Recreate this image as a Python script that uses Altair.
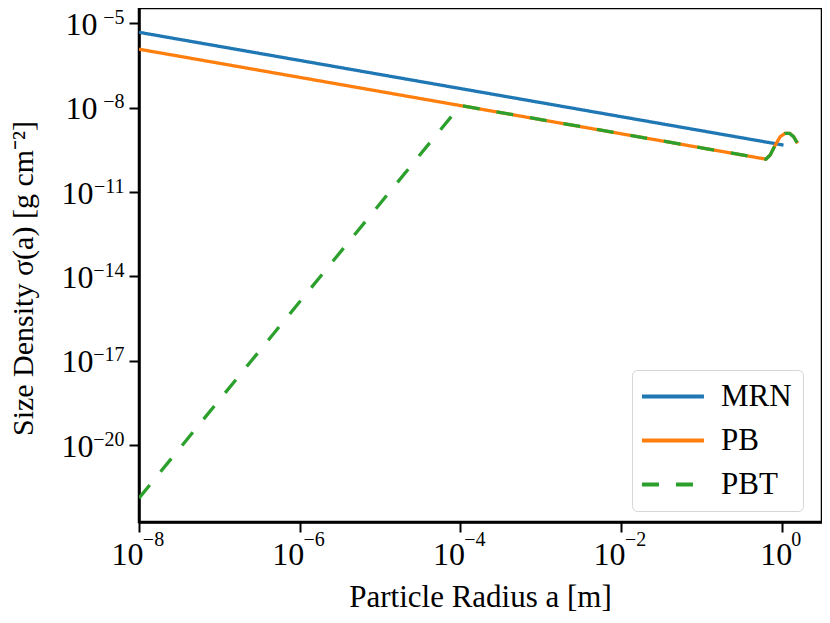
import math
import altair as alt
import pandas as pd

# Series values (log10 of sigma)
mrn_a = [1e-8, 1.05]
mrn_log_sigma = [-5.32, -9.33]

pb_a = [1e-8, 0.634, 0.717, 0.828, 0.955, 1.10, 1.247, 1.40, 1.57]
pb_log_sigma = [-5.92, -9.83, -9.68, -9.33, -9.03, -8.91, -8.91, -9.03, -9.27]

pbt_a = [1e-8, 1e-4, 0.634, 0.717, 0.828, 0.955, 1.10, 1.247, 1.40, 1.57]
pbt_log_sigma = [-21.88, -7.92, -9.83, -9.68, -9.33, -9.03, -8.91, -8.91, -9.03, -9.27]

series_names = ["MRN", "PB", "PBT"]
series_colors = ["#1f77b4", "#ff7f0e", "#2ca02c"]

x_ticks = [1e-8, 1e-6, 1e-4, 1e-2, 1.0]
x_tick_exponents = ["−8", "−6", "−4", "−2", "0"]
y_ticks = [1e-5, 1e-8, 1e-11, 1e-14, 1e-17, 1e-20]
y_tick_exponents = ["−5", "−8", "−11", "−14", "−17", "−20"]

rows = []
for name, xs, ys in [("MRN", mrn_a, mrn_log_sigma), ("PB", pb_a, pb_log_sigma), ("PBT", pbt_a, pbt_log_sigma)]:
    for i, (a, ls) in enumerate(zip(xs, ys)):
        rows.append({"series": name, "a": a, "sigma": 10 ** ls, "i": i})
df = pd.DataFrame(rows)


def exp_expr(ticks, labels):
    expr = "''"
    for t, lab in reversed(list(zip(ticks, labels))):
        expr = f"abs(log(datum.value)/LN10 - ({math.log10(t)})) < 0.01 ? '{lab}' : ({expr})"
    return expr


FONT = "Liberation Serif"
x_scale = alt.Scale(type="log", domain=[1e-8, 10 ** 0.5], nice=False)
y_scale = alt.Scale(type="log", domain=[10 ** -22.73, 10 ** -4.456], nice=False)

common_axis = dict(grid=False, labelFlush=False, labelOverlap=False, labelBound=False,
                   labelFont=FONT, labelColor="black")

lines = alt.Chart(df).mark_line(strokeWidth=3.3, clip=True).encode(
    x=alt.X("a:Q", scale=x_scale,
            axis=alt.Axis(values=x_ticks, labelExpr="'10'", orient="bottom",
                          labelFontSize=32, labelAlign="center", labelBaseline="alphabetic",
                          labelPadding=32,
                          labelOffset={"condition": {"test": "datum.value > 0.5", "value": -6}, "value": -12},
                          title="Particle Radius a [m]", titleX=341, titleY=75,
                          titleBaseline="middle", titleAlign="center", titleFontSize=31,
                          **common_axis)),
    y=alt.Y("sigma:Q", scale=y_scale,
            axis=alt.Axis(values=y_ticks, labelExpr="'10'", orient="left",
                          labelFontSize=32, labelAlign="right", labelBaseline="middle",
                          labelPadding={"condition": {"test": "datum.value > 1e-9", "value": 32}, "value": 36},
                          labelOffset=1,
                          title="Size Density σ(a) [g cm⁻²]", titleX=-116, titleY=270,
                          titleBaseline="middle", titleAlign="center", titleAngle=270,
                          titleFontSize=30,
                          **common_axis)),
    color=alt.Color("series:N", scale=alt.Scale(domain=series_names, range=series_colors),
                    legend=alt.Legend(title=None)),
    strokeDash=alt.StrokeDash("series:N",
                              scale=alt.Scale(domain=series_names, range=[[1, 0], [1, 0], [17, 17]]),
                              legend=alt.Legend(title=None)),
    order="i:Q",
)

exponents = alt.Chart(df).mark_line(opacity=0).encode(
    x=alt.X("a:Q", scale=x_scale,
            axis=alt.Axis(values=x_ticks, labelExpr=exp_expr(x_ticks, x_tick_exponents), orient="bottom",
                          labelFontSize=20, labelAlign="center", labelBaseline="alphabetic",
                          labelPadding=23, ticks=False, domain=False, title=None,
                          labelOffset=14,
                          **common_axis)),
    y=alt.Y("sigma:Q", scale=y_scale,
            axis=alt.Axis(values=y_ticks, labelExpr=exp_expr(y_ticks, y_tick_exponents), orient="left",
                          labelFontSize=20, labelAlign="right", labelBaseline="middle",
                          labelPadding=15, labelOffset=-6, ticks=False, domain=False, title=None,
                          **common_axis)),
    detail="series:N",
    order="i:Q",
)

chart = alt.layer(lines, exponents).resolve_axis(
    x="independent", y="independent"
).properties(
    width=683, height=514,
    autosize=alt.AutoSizeParams(type="none"),
    padding={"left": 131, "top": 0, "right": 0, "bottom": 90},
).configure_view(
    stroke="black", strokeWidth=2.5
).configure_axis(
    domainColor="black", domainWidth=2.5, tickColor="black", tickWidth=2,
    tickSize=10, titleFont=FONT, titleFontWeight="normal", titleColor="black",
).configure_legend(
    orient="none", legendX=493, legendY=362, symbolType="M-1.6,0H4.4", symbolSize=427,
    symbolStrokeWidth=4, labelFont=FONT, labelFontSize=31, labelColor="black",
    labelOffset=47, rowPadding=12, padding=11, cornerRadius=5, strokeColor="#d6d6d6",
    fillColor="white",
)

chart.save("out.html", embed_options={"renderer": "svg", "actions": False})
